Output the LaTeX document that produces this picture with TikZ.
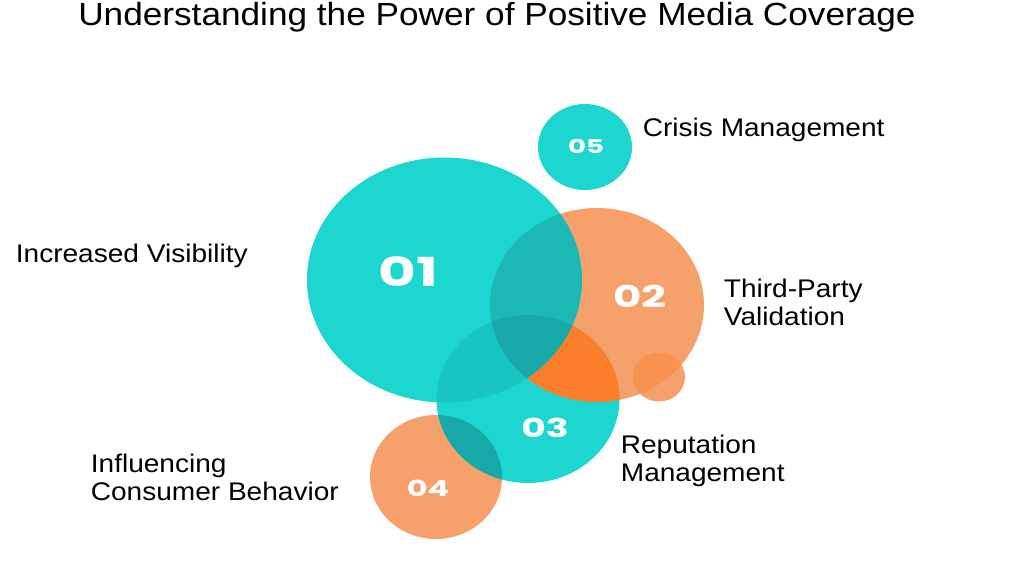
\documentclass[tikz,border=0pt]{standalone}
\usepackage{fontspec}
\setmainfont{Liberation Sans}
\newfontfamily\numfont{Poppins}
\definecolor{teal1}{HTML}{1DD6D0}
\definecolor{orng}{HTML}{F6A06C}
\definecolor{orbright}{HTML}{FB7F2A}
\definecolor{tealA}{HTML}{1BB8B4}
\definecolor{tealB}{HTML}{18C6C1}
\definecolor{tealC}{HTML}{17A9A7}
\definecolor{orsmall}{HTML}{F7924F}
\tikzset{num/.style={text=white,xscale=1.45,transform shape},lbl/.style={anchor=west,align=left,xscale=1.1,transform shape,font=\fontsize{25.5}{28}\selectfont}}
\begin{document}
\begin{tikzpicture}[x=1pt,y=-1pt]
\useasboundingbox (0,0) rectangle (1024,560);
\def\cA{(444.5,280) ellipse [x radius=137.5,y radius=122.5]}
\def\cB{(597,305) ellipse [x radius=107,y radius=97]}
\def\cC{(528,399) ellipse [x radius=91.5,y radius=84]}
\def\cD{(436,477) ellipse [x radius=66,y radius=62]}
\def\cE{(585,147) ellipse [x radius=47,y radius=43]}
\def\cS{(659,377) ellipse [x radius=26,y radius=24.5]}
\fill[orng] \cB; \fill[orng] \cD; \fill[teal1] \cE; \fill[orng] \cS;
\fill[teal1] \cC; \fill[teal1] \cA;
\begin{scope}\clip \cB; \fill[orbright] \cC; \fill[orsmall] \cS; \fill[tealA] \cA; \end{scope}
\begin{scope}\clip \cA; \fill[tealB] \cC; \clip \cB; \fill[tealC] \cC; \end{scope}
\begin{scope}\clip \cD; \fill[tealC] \cC; \end{scope}
\node[xscale=1.1,transform shape,font=\fontsize{32}{36}\selectfont] (title) at (497,17) {Understanding the Power of Positive Media Coverage};
\node[num,font=\numfont\bfseries\fontsize{40}{40}\selectfont] (n1) at (408,272) {01};
\node[num,font=\numfont\bfseries\fontsize{30}{30}\selectfont] (n2) at (640,296) {02};
\node[num,font=\numfont\bfseries\fontsize{26}{26}\selectfont] (n3) at (545,428) {03};
\node[num,font=\numfont\bfseries\fontsize{22}{22}\selectfont] (n4) at (428,488) {04};
\node[num,font=\numfont\bfseries\fontsize{19}{19}\selectfont] (n5) at (586,146) {05};
\node[lbl] (l1) at (12,256) {Increased Visibility};
\node[lbl] (l5) at (639,130) {Crisis Management};
\node[lbl] (l2) at (720,302) {Third-Party\\Validation};
\node[lbl] (l3) at (617,461) {Reputation\\Management};
\node[lbl] (l4) at (87,477) {Influencing\\Consumer Behavior};
\end{tikzpicture}
\end{document}
